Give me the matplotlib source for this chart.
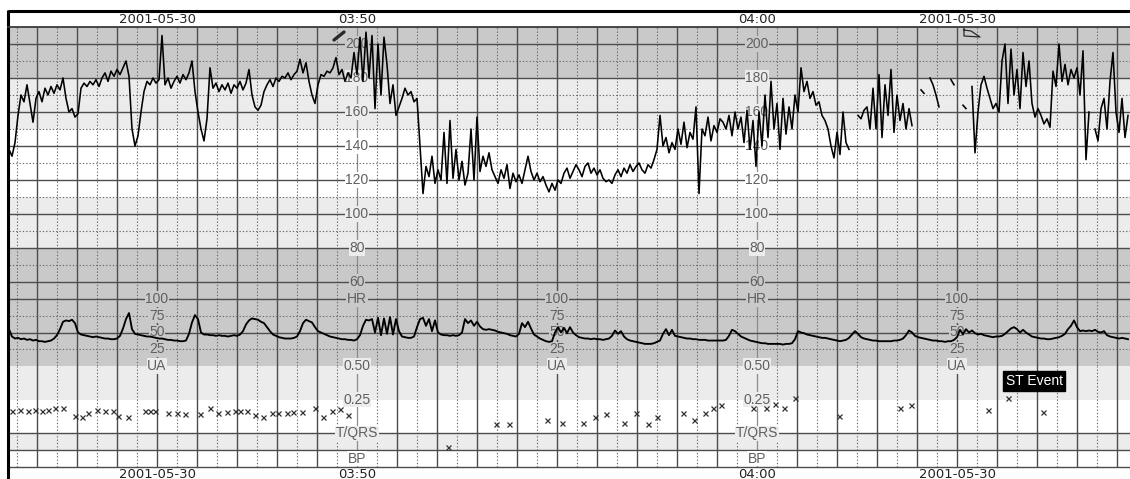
import numpy as np
import matplotlib.pyplot as plt

nan = np.nan

# ---- trace data (one sample every 0.075 min, first sample at -8.7 min from 03:50) ----
sample_start = -8.7
sample_step = 0.075

hr_bpm = [
    138, 134, 142, 158, 170, 166, 176, 165, 154, 168,
    172, 166, 174, 170, 175, 171, 176, 173, 180, 168,
    160, 162, 157, 159, 174, 177, 175, 178, 176, 179,
    175, 180, 183, 178, 184, 181, 185, 182, 186, 190,
    181, 150, 140, 146, 160, 172, 178, 176, 180, 177,
    179, 205, 176, 180, 174, 178, 181, 177, 182, 179,
    183, 190, 172, 160, 150, 143, 156, 186, 174, 177,
    172, 176, 173, 177, 171, 176, 174, 178, 173, 177,
    185, 170, 163, 161, 164, 172, 176, 179, 175, 180,
    178, 181, 180, 183, 179, 182, 184, 191, 183, 189,
    178, 170, 165, 176, 182, 181, 184, 183, 186, 192,
    182, 185, 178, 183, 180, 195, 182, 204, 178, 207,
    180, 205, 162, 200, 170, 204, 188, 165, 176, 158,
    163, 168, 174, 170, 172, 166, 168, 140, 112, 128,
    122, 134, 118, 126, 120, 148, 118, 155, 121, 138,
    120, 131, 117, 124, 150, 120, 157, 125, 134, 128,
    136, 126, 122, 118, 126, 121, 129, 115, 124, 119,
    123, 118, 126, 134, 125, 120, 124, 119, 122, 117,
    113, 118, 114, 120, 118, 124, 127, 121, 125, 129,
    126, 122, 128, 130, 124, 127, 123, 126, 121, 119,
    120, 118, 123, 126, 122, 127, 124, 129, 125, 128,
    130, 126, 124, 129, 127, 132, 138, 158, 140, 145,
    136, 142, 138, 150, 141, 154, 139, 148, 144, 163,
    112, 150, 146, 157, 143, 152, 148, 156, 154, 150,
    158, 146, 160, 150, 157, 142, 161, 138, 155, 128,
    160, 140, 170, 145, 178, 150, 165, 138, 168, 147,
    163, 150, 170, 160, 186, 172, 178, 168, 172, 164,
    166, 158, 155, 150, 140, 133, 148, 135, 160, 142,
    138, nan, nan, 158, 156, 161, 163, 150, 174, 150,
    182, 145, 176, 158, 185, 148, 170, 155, 165, 150,
    162, 152, nan, nan, 173, 171, nan, 180, 176, 170,
    163, nan, nan, nan, 179, 176, nan, nan, 164, 162,
    nan, 175, 136, 160, 176, 181, 174, 168, 162, 165,
    160, 190, 200, 165, 197, 170, 185, 162, 195, 175,
    190, 165, 157, 162, 158, 153, 156, 151, 184, 175,
    200, 178, 188, 176, 185, 180, 186, 170, 196, 132,
    160, nan, 150, 143, 162, 168, 150, 178, 195, 160,
    148, 168, 145, 158,
]

ua_vals = [
    55, 44, 41, 42, 40, 41, 39, 40, 38, 39,
    37, 37, 36, 37, 38, 41, 46, 55, 66, 68,
    67, 69, 64, 50, 47, 46, 45, 44, 43, 44,
    43, 42, 41, 41, 40, 40, 41, 45, 56, 70,
    79, 55, 48, 47, 46, 45, 44, 44, 43, 42,
    41, 41, 40, 39, 39, 38, 38, 37, 37, 38,
    48, 65, 76, 70, 50, 47, 47, 46, 46, 45,
    46, 45, 45, 44, 45, 46, 45, 47, 52, 62,
    68, 71, 70, 69, 66, 64, 58, 52, 47, 45,
    43, 42, 41, 41, 41, 42, 44, 52, 64, 69,
    67, 65, 58, 52, 50, 48, 46, 44, 43, 42,
    41, 40, 40, 39, 39, 38, 40, 46, 60, 69,
    68, 70, 50, 72, 46, 71, 48, 73, 47, 70,
    52, 44, 43, 42, 42, 44, 58, 70, 72, 60,
    70, 52, 68, 50, 47, 46, 46, 45, 46, 45,
    46, 50, 70, 64, 68, 60, 66, 59, 55, 54,
    55, 54, 53, 51, 50, 49, 48, 46, 45, 44,
    48, 64, 58, 66, 56, 47, 44, 41, 39, 37,
    36, 37, 50, 58, 50, 57, 49, 58, 50, 46,
    43, 42, 41, 41, 40, 41, 40, 40, 39, 40,
    41, 45, 53, 48, 52, 44, 40, 38, 37, 36,
    35, 34, 33, 33, 33, 34, 36, 38, 48, 55,
    46, 54, 45, 44, 43, 42, 41, 41, 40, 40,
    39, 39, 39, 38, 38, 38, 38, 38, 38, 39,
    45, 54, 52, 48, 44, 42, 40, 38, 37, 36,
    35, 34, 34, 33, 33, 33, 33, 33, 32, 33,
    33, 34, 40, 52, 50, 49, 47, 46, 45, 44,
    43, 42, 42, 41, 40, 39, 38, 37, 38, 39,
    42, 47, 52, 48, 43, 41, 40, 39, 38, 38,
    37, 37, 37, 37, 37, 38, 38, 39, 41, 46,
    53, 50, 45, 43, 42, 41, 40, 39, 38, 38,
    37, 37, 36, 37, 37, 39, 43, 54, 47, 55,
    50, 53, 49, 47, 48, 46, 45, 44, 43, 44,
    44, 45, 48, 52, 56, 58, 55, 50, 54, 50,
    47, 44, 43, 42, 41, 41, 40, 40, 41, 42,
    43, 45, 48, 55, 60, 68, 58, 52, 53, 52,
    53, 52, 54, 51, 50, 52, 46, 44, 43, 42,
    41, 42, 41, 40,
]

# T/QRS ratio events (minutes from 03:50, ratio)
tq_time = [-8.625, -8.425, -8.225, -8.05, -7.875, -7.725, -7.55, -7.35, -7.05, -6.875,
           -6.725, -6.5, -6.3, -6.1, -5.975, -5.725, -5.3, -5.175, -5.05, -4.725,
           -4.5, -4.3, -3.925, -3.675, -3.475, -3.25, -3.05, -2.925, -2.75, -2.55,
           -2.35, -2.125, -1.975, -1.75, -1.6, -1.375, -1.05, -0.85, -0.625, -0.425,
           -0.225, 2.275, 3.475, 3.8, 4.75, 5.125, 5.65, 5.95, 6.225, 6.675,
           6.975, 7.275, 7.5, 8.15, 8.425, 8.7, 8.9, 9.1, 9.9, 10.225,
           10.45, 10.675, 10.95, 12.05, 13.575, 13.85, 15.775, 16.275, 17.15]
tq_ratio = [0.165, 0.17, 0.165, 0.17, 0.165, 0.17, 0.19, 0.185, 0.13, 0.12,
            0.15, 0.175, 0.165, 0.165, 0.13, 0.12, 0.165, 0.165, 0.165, 0.15,
            0.15, 0.14, 0.14, 0.19, 0.15, 0.155, 0.165, 0.165, 0.165, 0.135,
            0.125, 0.15, 0.15, 0.15, 0.155, 0.155, 0.19, 0.125, 0.165, 0.18,
            0.135, -0.10, 0.07, 0.07, 0.10, 0.08, 0.08, 0.12, 0.14, 0.08,
            0.15, 0.07, 0.12, 0.15, 0.10, 0.15, 0.19, 0.21, 0.19, 0.19,
            0.22, 0.19, 0.26, 0.13, 0.19, 0.21, 0.17, 0.26, 0.16]

hr_ticks = [200, 180, 160, 140, 120, 100, 80, 60]
ua_ticks = [100, 75, 50, 25]
header_labels = [(-5, '2001-05-30'), (0, '03:50'), (10, '04:00'), (15, '2001-05-30')]

# ---- layout ----
W, H = 1130, 479
DARK = '#c9c9c9'
LIGHT = '#ececec'
GRID = '#4d4d4d'
DOT = '#6a6a6a'
AXLINE = '#8c8c8c'
LABEL = '#606060'

t_left = (9 - 357) / 40
t_right = (W - 357) / 40

fig = plt.figure(figsize=(W / 100, H / 100), dpi=100)
fig.patch.set_facecolor('white')


def panel(top, bottom):
    ax = fig.add_axes([9 / W, 1 - bottom / H, (W - 9) / W, (bottom - top) / H])
    ax.set_xlim(t_left, t_right)
    ax.axis('off')
    return ax


ax_hr = panel(27, 299)
ax_ua = panel(299, 366)
ax_tq = panel(366, 467)
ax_hr.set_ylim(50, 210)
ax_ua.set_ylim(0, 100)
ax_tq.set_ylim(-0.25, 0.5)

# background bands
for lo, hi, c in [(180, 210, DARK), (150, 180, LIGHT), (80, 110, LIGHT), (50, 80, DARK)]:
    ax_hr.axhspan(lo, hi, color=c, lw=0, zorder=0.5)
ax_ua.axhspan(0, 100, color=DARK, lw=0, zorder=0.5)
ax_tq.axhspan(0.25, 0.5, color=LIGHT, lw=0, zorder=0.5)
ax_tq.axhspan(-0.125, 0, color=LIGHT, lw=0, zorder=0.5)

# vertical grid: solid each minute, dotted each half minute
for ax in (ax_hr, ax_ua, ax_tq):
    for k in range(-8, 20):
        if k in (0, 10):
            ax.axvline(k, color=AXLINE, lw=0.9, zorder=1)
        else:
            ax.axvline(k, color=GRID, lw=1.0, zorder=1)
    for k in range(-9, 20):
        ax.axvline(k + 0.5, color=DOT, lw=0.8, ls=(0, (1.2, 1.8)), zorder=1)

# horizontal grid
for v in range(60, 201, 20):
    ax_hr.axhline(v, color=GRID, lw=1.0, zorder=1)
for v in range(70, 200, 20):
    ax_hr.axhline(v, color=DOT, lw=0.8, ls=(0, (1.2, 1.8)), zorder=1)
ax_ua.axhline(100, color=GRID, lw=1.0, zorder=1, clip_on=False)
ax_ua.axhline(50, color=GRID, lw=1.0, zorder=1)
for v in (75, 25):
    ax_ua.axhline(v, color=DOT, lw=0.8, ls=(0, (1.2, 1.8)), zorder=1)
for v in (0, -0.125, -0.25):
    ax_tq.axhline(v, color=GRID, lw=1.0, zorder=1, clip_on=False)


def scale_label(ax, t, v, s, bg):
    ax.text(t, v, s, ha='center', va='center', fontsize=10, color=LABEL,
            family='Liberation Sans', zorder=2.5,
            bbox=dict(boxstyle='square,pad=0.04', fc=bg, ec='none'))


def hr_bg(v):
    if v > 180 or v < 80:
        return DARK
    if v >= 150 or v <= 110:
        return LIGHT
    return 'white'


for t in (0, 10):
    for v in hr_ticks:
        scale_label(ax_hr, t, v, str(v), hr_bg(v))
    scale_label(ax_ua, t, 100, 'HR', DARK)
    scale_label(ax_tq, t, 0.5, '0.50', LIGHT)
    scale_label(ax_tq, t, 0.25, '0.25', LIGHT)
    scale_label(ax_tq, t, 0.0, 'T/QRS', LIGHT)
    scale_label(ax_tq, t, -0.1875, 'BP', 'white')
for t in (-5, 5, 15):
    for v in ua_ticks:
        scale_label(ax_ua, t, v, str(v), DARK)
    scale_label(ax_tq, t, 0.5, 'UA', LIGHT)

# traces
hr_t = sample_start + sample_step * np.arange(len(hr_bpm))
ua_t = sample_start + sample_step * np.arange(len(ua_vals))
ax_hr.plot(hr_t, hr_bpm, color='black', lw=1.15, zorder=3)
ax_ua.plot(ua_t, ua_vals, color='black', lw=1.35, zorder=3)
ax_tq.plot(tq_time, tq_ratio, 'x', ms=3.6, mew=0.9, color='#303030', zorder=3)

# ---- frame, header, footer, annotations ----
ov = fig.add_axes([0, 0, 1, 1])
ov.set_xlim(-357 / 40, t_right)
ov.set_ylim(H, 0)
ov.axis('off')


def px(x):
    return (x - 357) / 40


ov.plot([px(8), t_right], [11, 11], color='black', lw=2.2, solid_capstyle='butt')
ov.plot([px(8), px(8)], [10, H], color='black', lw=2.2, solid_capstyle='butt')
ov.plot([px(8), t_right], [27, 27], color='#3a3a3a', lw=1.3)
for t, s in header_labels:
    ov.text(t, 19.5, s, ha='center', va='center', fontsize=9.5, color='#222222')
    ov.text(t, 474, s, ha='center', va='center', fontsize=9.5, color='#222222')

# pencil mark and flag mark
ov.plot([px(334), px(344)], [40, 32], color='#2a2a2a', lw=2.4, solid_capstyle='round')
ov.plot([px(964), px(964), px(980), px(971), px(964)], [28, 36, 37, 31, 30],
        color='#2a2a2a', lw=0.9)

ov.text(px(1034), 381, 'ST Event', ha='center', va='center', fontsize=10, color='white',
        family='Liberation Sans',
        bbox=dict(boxstyle='square,pad=0.2', fc='black', ec='black'))

fig.savefig('out.png', dpi=100)
